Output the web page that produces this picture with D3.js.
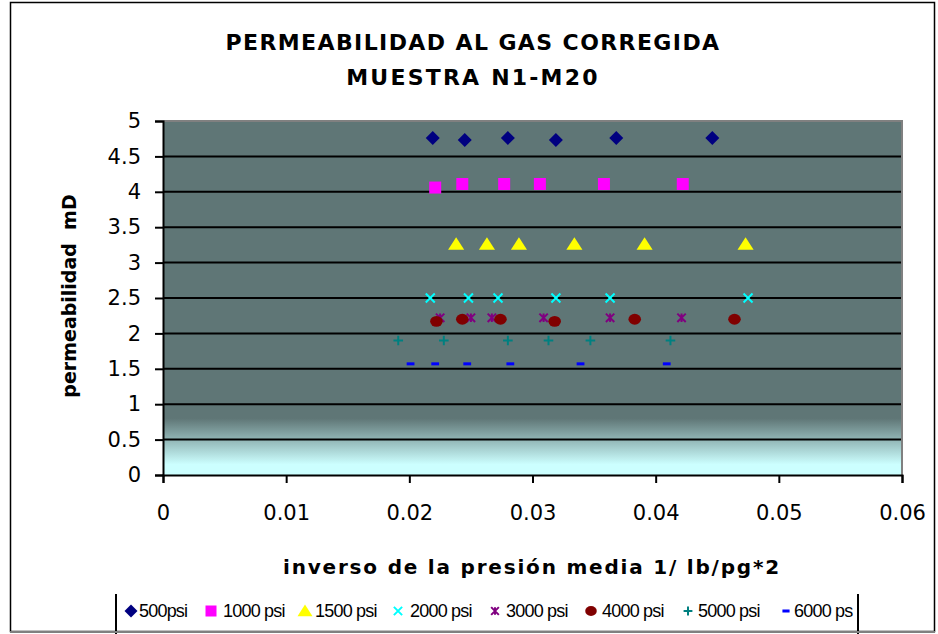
<!DOCTYPE html>
<html>
<head>
  <meta charset="utf-8">
  <title>Permeabilidad al gas corregida</title>
  <style>
    body { margin: 0; background: #fff; }
  </style>
</head>
<body>
  <svg width="938" height="634"></svg>
  <script src="https://cdn.jsdelivr.net/npm/d3@7"></script>
  <script>
  // datos
  var seriesNames = ["500psi", "1000 psi", "1500 psi", "2000 psi", "3000 psi", "4000 psi", "5000 psi", "6000 psi"];
  var legendLabels = ["500psi", "1000 psi", "1500 psi", "2000 psi", "3000 psi", "4000 psi", "5000 psi", "6000 ps"];

  var x500 = [0.0219, 0.0245, 0.0280, 0.0319, 0.0368, 0.0446];
  var y500 = [4.76, 4.73, 4.76, 4.73, 4.76, 4.76];
  var x1000 = [0.0221, 0.0243, 0.0277, 0.0306, 0.0358, 0.0422];
  var y1000 = [4.06, 4.11, 4.11, 4.11, 4.11, 4.11];
  var x1500 = [0.0238, 0.0263, 0.0289, 0.0334, 0.0391, 0.0473];
  var y1500 = [3.26, 3.26, 3.26, 3.26, 3.26, 3.26];
  var x2000 = [0.0217, 0.0248, 0.0272, 0.0319, 0.0363, 0.0475];
  var y2000 = [2.50, 2.50, 2.50, 2.50, 2.50, 2.50];
  var x3000 = [0.0225, 0.0250, 0.0267, 0.0309, 0.0363, 0.0421];
  var y3000 = [2.22, 2.22, 2.22, 2.22, 2.22, 2.22];
  var x4000 = [0.0222, 0.0243, 0.0274, 0.0318, 0.0383, 0.0464];
  var y4000 = [2.17, 2.20, 2.20, 2.17, 2.20, 2.20];
  var x5000 = [0.0191, 0.0228, 0.0280, 0.0313, 0.0347, 0.0412];
  var y5000 = [1.90, 1.90, 1.90, 1.90, 1.90, 1.90];
  var x6000 = [0.0201, 0.0221, 0.0247, 0.0282, 0.0339, 0.0409];
  var y6000 = [1.57, 1.57, 1.57, 1.57, 1.57, 1.57];

  var xTicks = [0, 0.01, 0.02, 0.03, 0.04, 0.05, 0.06];
  var yTicks = [0, 0.5, 1, 1.5, 2, 2.5, 3, 3.5, 4, 4.5, 5];

  var allX = [x500, x1000, x1500, x2000, x3000, x4000, x5000, x6000];
  var allY = [y500, y1000, y1500, y2000, y3000, y4000, y5000, y6000];
  var colors = ["#000080", "#FF00FF", "#FFFF00", "#00FFFF", "#800080", "#800000", "#008080", "#0000FF"];
  var shapes = ["diamond", "square", "triangle", "x", "star", "circle", "plus", "dash"];

  var series = seriesNames.map(function(name, i) {
    return {
      name: name,
      color: colors[i],
      shape: shapes[i],
      points: allX[i].map(function(v, j) { return { x: v, y: allY[i][j] }; })
    };
  });

  var svg = d3.select("svg");
  var plotLeft = 163, plotRight = 902, plotTop = 121, plotBottom = 475;

  var x = d3.scaleLinear().domain([0, 0.06]).range([plotLeft, plotRight]);
  var y = d3.scaleLinear().domain([0, 5]).range([plotBottom, plotTop]);

  var comic = "'Comic Sans MS', 'DejaVu Sans', sans-serif";
  var verdana = "Verdana, 'DejaVu Sans', sans-serif";

  // borde exterior
  svg.append("rect")
    .attr("x", 10.5).attr("y", 2.5)
    .attr("width", 924).attr("height", 629)
    .attr("fill", "#fff")
    .attr("stroke", "#000").attr("stroke-width", 1.5);

  // fondo del area de trazado con degradado
  var grad = svg.append("defs").append("linearGradient")
    .attr("id", "bg").attr("x1", 0).attr("y1", 0).attr("x2", 0).attr("y2", 1);
  grad.append("stop").attr("offset", "0.84").attr("stop-color", "#5F7676");
  grad.append("stop").attr("offset", "0.97").attr("stop-color", "#CCFFFF");

  svg.append("rect")
    .attr("x", plotLeft).attr("y", plotTop)
    .attr("width", plotRight - plotLeft).attr("height", plotBottom - plotTop)
    .attr("fill", "url(#bg)");

  // lineas de division
  svg.append("g").selectAll("line")
    .data(yTicks.slice(1, -1))
    .enter().append("line")
    .attr("x1", plotLeft).attr("x2", plotRight)
    .attr("y1", function(d) { return y(d); })
    .attr("y2", function(d) { return y(d); })
    .attr("stroke", "#000").attr("stroke-width", 2);

  // bordes superior y derecho en gris
  svg.append("path")
    .attr("d", "M" + plotLeft + "," + plotTop + "H" + plotRight + "V" + plotBottom)
    .attr("fill", "none").attr("stroke", "#808080").attr("stroke-width", 2);

  // ejes
  var xAxis = svg.append("g")
    .attr("transform", "translate(0," + plotBottom + ")")
    .call(d3.axisBottom(x).tickValues(xTicks).tickSize(8).tickPadding(22).tickFormat(d3.format("")));
  var yAxis = svg.append("g")
    .attr("transform", "translate(" + plotLeft + ",0)")
    .call(d3.axisLeft(y).tickValues(yTicks).tickSize(8).tickPadding(14).tickFormat(d3.format("")));

  [xAxis, yAxis].forEach(function(ax) {
    ax.select(".domain").attr("stroke", "#000").attr("stroke-width", 2);
    ax.selectAll(".tick line").attr("stroke", "#000").attr("stroke-width", 2);
    ax.selectAll(".tick text")
      .attr("fill", "#000")
      .style("font-family", verdana)
      .style("font-size", "21px");
  });
  xAxis.selectAll(".tick text").attr("dy", "0.71em");

  // titulo
  svg.append("text")
    .attr("x", 473).attr("y", 50)
    .attr("text-anchor", "middle")
    .style("font-family", comic).style("font-weight", "bold").style("font-size", "22px")
    .style("letter-spacing", "1.4px")
    .text("PERMEABILIDAD AL GAS CORREGIDA");
  svg.append("text")
    .attr("x", 473).attr("y", 85)
    .attr("text-anchor", "middle")
    .style("font-family", comic).style("font-weight", "bold").style("font-size", "22px")
    .style("letter-spacing", "2.2px")
    .text("MUESTRA N1-M20");

  // titulos de ejes
  svg.append("text")
    .attr("x", 532).attr("y", 574)
    .attr("text-anchor", "middle")
    .style("font-family", comic).style("font-weight", "bold").style("font-size", "20px")
    .style("letter-spacing", "1.8px")
    .text("inverso de la presión media 1/ lb/pg*2");
  svg.append("text")
    .attr("transform", "translate(76,296) rotate(-90)")
    .attr("text-anchor", "middle")
    .style("font-family", comic).style("font-weight", "bold").style("font-size", "19px")
    .style("white-space", "pre")
    .text("permeabilidad  mD");

  // marcadores
  function marker(sel, shape, color, s) {
    if (shape === "diamond") {
      sel.append("path").attr("d", "M0," + (-s) + "L" + s + ",0L0," + s + "L" + (-s) + ",0Z").attr("fill", color);
    } else if (shape === "square") {
      sel.append("rect").attr("x", -s).attr("y", -s).attr("width", 2 * s).attr("height", 2 * s).attr("fill", color);
    } else if (shape === "triangle") {
      sel.append("path").attr("d", "M0," + (-s) + "L" + (s * 1.15) + "," + (s * 0.8) + "L" + (-s * 1.15) + "," + (s * 0.8) + "Z").attr("fill", color);
    } else if (shape === "x") {
      var a = s * 0.75;
      sel.append("path").attr("d", "M" + (-a) + "," + (-a) + "L" + a + "," + a + "M" + a + "," + (-a) + "L" + (-a) + "," + a)
        .attr("stroke", color).attr("stroke-width", 2).attr("fill", "none");
    } else if (shape === "star") {
      var b = s * 0.7;
      sel.append("path").attr("d", "M" + (-b) + "," + (-b) + "L" + b + "," + b + "M" + b + "," + (-b) + "L" + (-b) + "," + b + "M0," + (-b) + "L0," + b)
        .attr("stroke", color).attr("stroke-width", 2).attr("fill", "none");
    } else if (shape === "circle") {
      sel.append("ellipse").attr("rx", s * 1.05).attr("ry", s * 0.9).attr("fill", color);
    } else if (shape === "plus") {
      var c = s * 0.8;
      sel.append("path").attr("d", "M" + (-c) + ",0H" + c + "M0," + (-c) + "V" + c)
        .attr("stroke", color).attr("stroke-width", 2).attr("fill", "none");
    } else if (shape === "dash") {
      sel.append("rect").attr("x", -s * 0.65).attr("y", -1.5).attr("width", s * 1.3).attr("height", 3).attr("fill", color);
    }
  }

  var sizes = { diamond: 7, square: 6, triangle: 7, x: 6, star: 6, circle: 6, plus: 6, dash: 6 };

  series.forEach(function(s) {
    svg.append("g").selectAll("g")
      .data(s.points)
      .enter().append("g")
      .attr("transform", function(d) { return "translate(" + x(d.x) + "," + y(d.y) + ")"; })
      .each(function() { marker(d3.select(this), s.shape, s.color, sizes[s.shape]); });
  });

  // leyenda
  svg.append("path")
    .attr("d", "M116,594V634M858,594V634")
    .attr("stroke", "#000").attr("stroke-width", 2);
  var legendMarkX = [131, 211, 305, 398, 495, 591, 688, 786];
  var legendTextX = [139, 223, 315, 410, 506, 602, 698, 794];
  var legend = svg.append("g");
  series.forEach(function(s, i) {
    var g = legend.append("g").attr("transform", "translate(" + legendMarkX[i] + ",611)");
    marker(g, s.shape, s.color, s.shape === "diamond" || s.shape === "triangle" ? 6.5 : 5.5);
    legend.append("text")
      .attr("x", legendTextX[i]).attr("y", 611)
      .attr("dy", "0.35em")
      .style("font-family", "'Liberation Sans', Arial, sans-serif")
      .style("font-size", "18px")
      .style("letter-spacing", "-0.8px")
      .text(legendLabels[i]);
  });
  svg.append("line")
    .attr("x1", 10).attr("x2", 935).attr("y1", 632).attr("y2", 632)
    .attr("stroke", "#808080").attr("stroke-width", 2);
  </script>
</body>
</html>
